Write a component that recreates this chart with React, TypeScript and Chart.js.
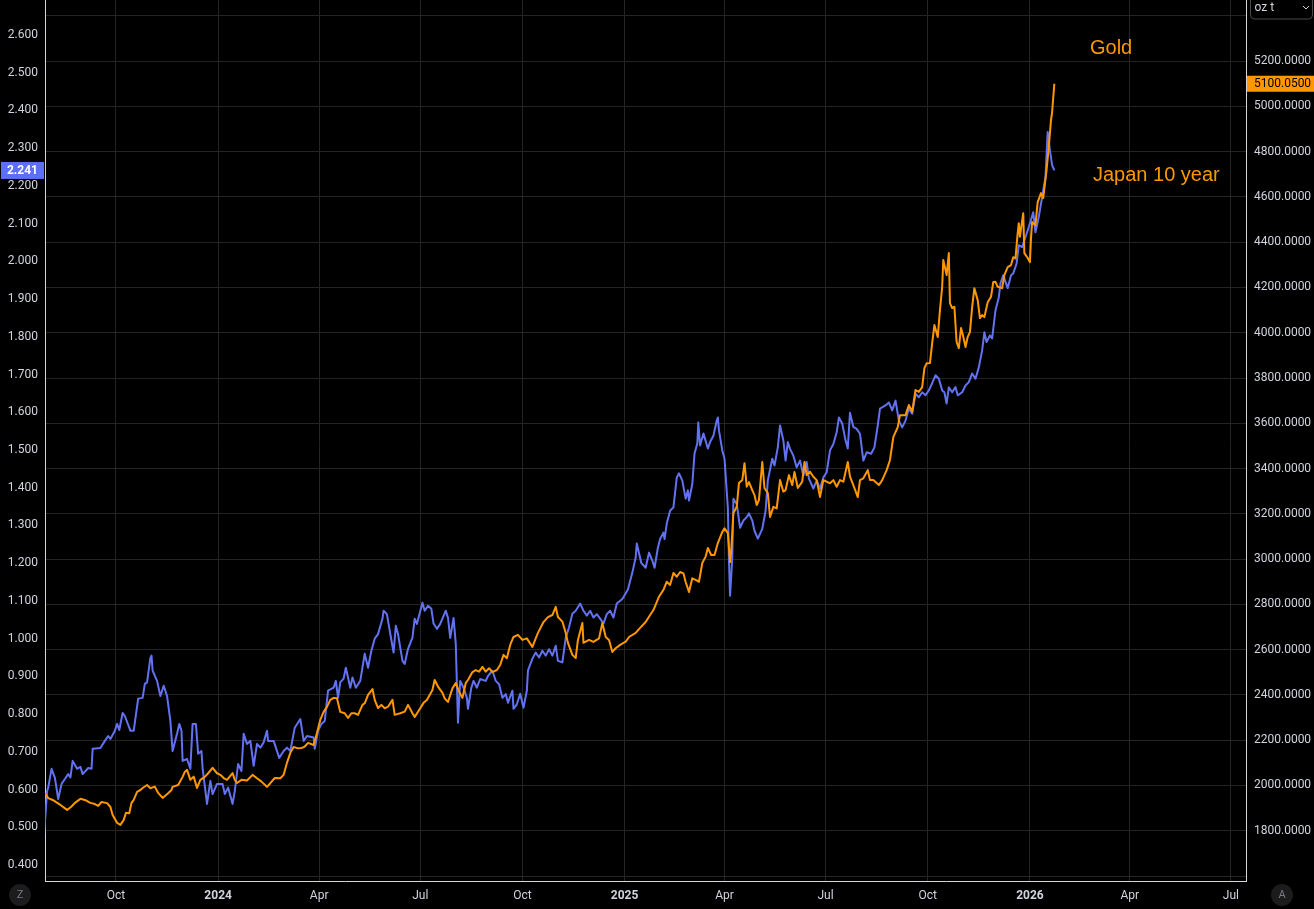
import React, { useEffect, useRef } from "react";
import { Chart, registerables } from "chart.js";

Chart.register(...registerables);

// ---------- data (days are counted from 2024-01-01) ----------
const BASE_DATE = Date.UTC(2024, 0, 1);
const DAY_MS = 86400000;

const jgbDays = [
  -157, -154, -153, -150, -147, -144, -141, -138, -135, -133, -131, -127, -124, -122, -117, -114, -113, -106, -102, -99,
  -97, -93, -91, -89, -86, -84, -79, -76, -72, -68, -66, -64, -61, -60, -59, -55, -52, -49, -46, -43,
  -41, -37, -35, -33, -32, -28, -25, -23, -20, -18, -15, -14, -10, -7, -5, -1, 4, 6, 9, 13,
  15, 18, 21, 23, 26, 29, 32, 35, 38, 41, 44, 45, 50, 55, 59, 62, 65, 69, 74, 77,
  80, 86, 87, 90, 93, 96, 99, 104, 106, 108, 110, 113, 115, 119, 121, 124, 128, 132, 135, 138,
  141, 144, 148, 149, 152, 155, 158, 160, 162, 166, 168, 171, 175, 177, 179, 184, 186, 189, 192, 194,
  197, 200, 205, 207, 209, 212, 214, 215, 216, 218, 221, 224, 225, 228, 230, 233, 236, 241, 243, 247,
  250, 253, 256, 259, 261, 265, 266, 269, 272, 275, 278, 279, 283, 286, 289, 292, 295, 298, 301, 304,
  306, 310, 313, 316, 319, 322, 326, 329, 332, 335, 338, 341, 344, 347, 350, 353, 356, 359, 364, 369,
  373, 376, 377, 381, 385, 388, 391, 393, 396, 398, 401, 402, 404, 407, 410, 413, 415, 418, 421, 423,
  424, 427, 429, 431.5, 432.4, 434, 437, 441, 443, 446, 449, 450, 451, 454, 456, 459, 460, 461, 463, 464,
  467, 470, 473, 476, 478, 481, 483, 486, 490, 493, 495, 499, 501, 504, 506, 509, 511, 513, 515, 518,
  521, 524, 527, 530, 532, 536, 539, 542, 545, 548, 551, 554, 557, 559, 562, 565, 567, 569, 572, 575,
  578, 581, 584, 588, 591, 594, 596, 601, 604, 607, 610, 613, 616, 619, 622, 625, 628, 631, 634, 637,
  640, 643, 646, 649, 652, 654, 656, 658, 661, 664, 666, 670, 673, 676, 679, 682, 685, 688, 690, 692,
  695, 697, 700, 703, 704.5, 707, 711, 714, 716, 719, 721, 724, 727, 730, 734, 736, 739, 742, 745, 747,
  749, 751, 753,
];

const jgbYield = [
  0.47, 0.596, 0.605, 0.655, 0.631, 0.575, 0.615, 0.628, 0.641, 0.632, 0.676, 0.655, 0.66, 0.641, 0.657, 0.655, 0.708, 0.71, 0.729, 0.742,
  0.734, 0.756, 0.774, 0.758, 0.803, 0.795, 0.756, 0.756, 0.841, 0.843, 0.88, 0.884, 0.949, 0.955, 0.915, 0.888, 0.848, 0.875, 0.848, 0.782,
  0.702, 0.748, 0.774, 0.756, 0.676, 0.681, 0.655, 0.774, 0.774, 0.695, 0.702, 0.657, 0.562, 0.623, 0.588, 0.615, 0.615, 0.588, 0.605, 0.562,
  0.596, 0.668, 0.649, 0.748, 0.721, 0.729, 0.663, 0.721, 0.711, 0.725, 0.756, 0.729, 0.729, 0.684, 0.702, 0.711, 0.702, 0.764, 0.787, 0.729,
  0.742, 0.738, 0.708, 0.756, 0.774, 0.782, 0.862, 0.87, 0.888, 0.843, 0.884, 0.894, 0.923, 0.87, 0.897, 0.87, 0.888, 0.96, 0.923, 0.968,
  1.0, 1.012, 1.053, 1.074, 1.065, 1.013, 0.963, 1.034, 1.012, 0.941, 0.933, 0.973, 1.003, 1.053, 1.039, 1.095, 1.074, 1.087, 1.079, 1.04,
  1.026, 1.039, 1.074, 1.055, 1.002, 1.055, 0.986, 0.88, 0.777, 0.888, 0.87, 0.843, 0.814, 0.87, 0.888, 0.87, 0.893, 0.888, 0.901, 0.915,
  0.888, 0.879, 0.843, 0.853, 0.83, 0.862, 0.814, 0.826, 0.854, 0.817, 0.862, 0.915, 0.947, 0.963, 0.95, 0.968, 0.955, 0.972, 0.955, 0.981,
  0.941, 0.937, 1.002, 1.03, 1.066, 1.074, 1.093, 1.074, 1.061, 1.074, 1.056, 1.065, 1.053, 1.04, 1.065, 1.074, 1.056, 1.093, 1.105, 1.13,
  1.175, 1.215, 1.252, 1.201, 1.188, 1.228, 1.207, 1.188, 1.241, 1.264, 1.281, 1.264, 1.305, 1.339, 1.348, 1.427, 1.438, 1.419, 1.371, 1.393,
  1.366, 1.41, 1.491, 1.517, 1.573, 1.512, 1.544, 1.504, 1.521, 1.538, 1.578, 1.586, 1.552, 1.499, 1.477, 1.347, 1.207, 1.114, 1.216, 1.371,
  1.357, 1.294, 1.313, 1.322, 1.332, 1.313, 1.286, 1.265, 1.291, 1.339, 1.419, 1.477, 1.459, 1.507, 1.565, 1.525, 1.472, 1.521, 1.503, 1.485,
  1.454, 1.472, 1.432, 1.468, 1.424, 1.398, 1.419, 1.397, 1.427, 1.441, 1.499, 1.516, 1.547, 1.586, 1.57, 1.525, 1.504, 1.599, 1.561, 1.556,
  1.543, 1.472, 1.494, 1.49, 1.507, 1.565, 1.61, 1.618, 1.626, 1.605, 1.631, 1.578, 1.56, 1.578, 1.61, 1.596, 1.649, 1.64, 1.653, 1.645,
  1.658, 1.677, 1.698, 1.689, 1.658, 1.653, 1.623, 1.666, 1.653, 1.667, 1.645, 1.653, 1.671, 1.68, 1.703, 1.689, 1.719, 1.764, 1.812, 1.786,
  1.804, 1.796, 1.87, 1.905, 1.942, 1.963, 1.929, 1.963, 1.968, 1.994, 2.043, 2.038, 2.064, 2.091, 2.13, 2.077, 2.118, 2.17, 2.223, 2.343,
  2.295, 2.255, 2.241,
];

const goldDays = [
  -156, -153, -149, -142, -136, -132, -129, -124, -120, -115, -111, -108, -105, -100, -97, -95, -91, -88, -85, -83,
  -80, -78, -76, -73, -70, -68, -64, -61, -57, -54, -50, -45, -42, -41, -36, -32, -30, -28, -25, -22,
  -19, -16, -12, -9, -5, -1, 2, 5, 8, 13, 15, 17, 21, 26, 31, 35, 39, 44, 47, 51,
  56, 59, 62, 65, 68, 72, 75, 78, 81, 86, 89, 92, 95, 98, 101, 104, 107, 110, 114, 117,
  120, 123, 126, 130, 132, 135, 139, 141, 144, 147, 150, 153, 157, 159, 164, 168, 171, 175, 177, 180,
  185, 188, 193, 195, 198, 202, 204, 207, 211, 214, 217, 220, 223, 225, 229, 232, 235, 238, 241, 244,
  247, 251, 254, 257, 260, 263, 266, 270, 274, 278, 283, 286, 288, 293, 297, 301, 304, 306, 310, 313,
  315, 319, 322, 324, 328, 329, 334, 338, 343, 346, 349, 352, 355, 358, 362, 367, 370, 376, 380, 385,
  389, 392, 397, 401, 404, 407, 410, 413, 416, 419, 421, 424, 427, 430, 433, 436, 439, 441, 444, 447,
  450, 454, 456, 459, 461, 462, 464, 467, 469, 472, 474, 476, 478, 481, 483, 485, 487, 490, 492, 495,
  497, 500, 503, 506, 509, 511, 514, 517, 519, 522, 526, 528, 530, 533, 536, 539, 542, 545, 548, 551,
  554, 557, 560, 563, 567, 569, 572, 576, 578, 581, 585, 587, 590, 595, 598, 602, 605, 608, 612, 614,
  619, 622, 625, 628, 631, 634, 636, 638, 641, 643, 645, 648, 650, 652, 653, 656, 658, 659, 661, 663,
  665, 667, 669, 671, 673, 675, 677, 679, 681, 684, 686, 688, 690, 693, 696, 698, 700, 702, 706, 708,
  711, 714, 716, 718, 720, 721, 722, 725, 726, 729, 731, 732, 733, 736, 738, 741, 743, 746, 748, 750,
  751, 753,
];

const goldPrice = [
  1967, 1944, 1936, 1914, 1892, 1907, 1923, 1941, 1936, 1923, 1918, 1910, 1927, 1922, 1905, 1870, 1835, 1826, 1848, 1879,
  1877, 1923, 1936, 1972, 1980, 1989, 2002, 1988, 1995, 1967, 1945, 1966, 1980, 1994, 2002, 2038, 2060, 2069, 2025, 2039,
  1989, 2025, 2038, 2054, 2078, 2054, 2047, 2033, 2025, 2055, 2025, 2011, 2025, 2022, 2047, 2032, 2017, 1994, 2010, 2033,
  2032, 2047, 2100, 2144, 2170, 2164, 2165, 2172, 2188, 2179, 2232, 2290, 2325, 2347, 2378, 2387, 2385, 2325, 2319, 2298,
  2319, 2319, 2312, 2356, 2363, 2400, 2426, 2378, 2342, 2356, 2341, 2348, 2378, 2312, 2319, 2326, 2356, 2319, 2303, 2326,
  2365, 2378, 2422, 2466, 2437, 2409, 2385, 2369, 2429, 2453, 2414, 2387, 2453, 2466, 2501, 2510, 2503, 2524, 2503, 2518,
  2501, 2510, 2532, 2577, 2562, 2621, 2656, 2665, 2643, 2650, 2612, 2650, 2674, 2722, 2744, 2753, 2789, 2744, 2724, 2674,
  2630, 2577, 2563, 2643, 2718, 2630, 2643, 2634, 2650, 2718, 2656, 2643, 2590, 2606, 2621, 2635, 2656, 2674, 2696, 2722,
  2753, 2775, 2834, 2864, 2900, 2886, 2939, 2922, 2943, 2937, 2899, 2855, 2915, 2908, 2900, 2983, 3011, 3049, 3018, 3018,
  3071, 3120, 3136, 3115, 2987, 3033, 3204, 3231, 3336, 3349, 3424, 3320, 3340, 3305, 3283, 3239, 3261, 3429, 3313, 3292,
  3186, 3231, 3224, 3349, 3298, 3305, 3371, 3327, 3385, 3314, 3342, 3429, 3371, 3386, 3364, 3349, 3274, 3349, 3342, 3335,
  3349, 3320, 3349, 3342, 3429, 3364, 3327, 3274, 3349, 3357, 3393, 3349, 3349, 3327, 3349, 3393, 3438, 3539, 3583, 3636,
  3636, 3681, 3651, 3747, 3739, 3760, 3844, 3865, 3866, 3954, 4034, 3981, 4100, 4202, 4321, 4255, 4352, 4131, 4109, 4115,
  3959, 3932, 4021, 3982, 3937, 3982, 4003, 4113, 4197, 4144, 4065, 4078, 4069, 4135, 4159, 4224, 4225, 4203, 4197, 4255,
  4290, 4299, 4334, 4328, 4440, 4484, 4424, 4528, 4352, 4330, 4312, 4418, 4489, 4475, 4577, 4617, 4595, 4718, 4820, 4939,
  4974, 5100.05,
];

const leftTicks = [0.4, 0.5, 0.6, 0.7, 0.8, 0.9, 1.0, 1.1, 1.2, 1.3, 1.4, 1.5, 1.6, 1.7, 1.8, 1.9, 2.0, 2.1, 2.2, 2.3, 2.4, 2.5, 2.6];
const rightTicks = [1600, 1800, 2000, 2200, 2400, 2600, 2800, 3000, 3200, 3400, 3600, 3800, 4000, 4200, 4400, 4600, 4800, 5000, 5200, 5400];
const hiddenRightTicks = [1600, 5400];
const dateTicks = [
  "2023-10-01", "2024-01-01", "2024-04-01", "2024-07-01", "2024-10-01", "2025-01-01",
  "2025-04-01", "2025-07-01", "2025-10-01", "2026-01-01", "2026-04-01", "2026-07-01",
];
const monthNames = ["Jan", "Feb", "Mar", "Apr", "May", "Jun", "Jul", "Aug", "Sep", "Oct", "Nov", "Dec"];
const seriesNames = ["Japan 10 year", "Gold"];
const unitLabel = "oz t";

const viewStartDay = -155.9;
const viewEndDay = 925.6;
const leftMin = 0.3576;
const leftMax = 2.6928;
const rightMin = 1578;
const rightMax = 5470;

const BLUE = "#6272f2";
const ORANGE = "#ff9800";
const GRID = "#242424";
const AXIS_LINE = "#d6d6d6";
const TEXT = "#d1d4dc";
const FONT = "Roboto, 'Liberation Sans', sans-serif";

const dayOf = (iso: string) => (Date.parse(iso + "T00:00:00Z") - BASE_DATE) / DAY_MS;

const zeroPad = (s: any) => {
  s.paddingTop = 0;
  s.paddingBottom = 0;
  s.paddingLeft = 0;
  s.paddingRight = 0;
};

const decorPlugin = {
  id: "tvDecor",
  beforeDraw(chart: any) {
    const { ctx, width, height } = chart;
    ctx.save();
    ctx.fillStyle = "#000";
    ctx.fillRect(0, 0, width, height);
    ctx.restore();
  },
  afterDraw(chart: any) {
    const { ctx, scales, chartArea } = chart;
    const yL = scales.yL;
    const yR = scales.yR;
    ctx.save();

    // annotation texts
    ctx.fillStyle = ORANGE;
    ctx.font = "20px 'Liberation Sans', Arial, sans-serif";
    ctx.textAlign = "left";
    ctx.textBaseline = "alphabetic";
    ctx.fillText(seriesNames[1], 1090, 54);
    ctx.fillText(seriesNames[0], 1093, 181);

    // last-value label on left axis
    const lastJ = jgbYield[jgbYield.length - 1];
    const yj = yL.getPixelForValue(lastJ);
    ctx.fillStyle = "#5d6ef7";
    ctx.fillRect(1, yj - 8.5, chartArea.left - 2, 17);
    ctx.fillStyle = "#ffffff";
    ctx.font = `bold 12px ${FONT}`;
    ctx.textAlign = "right";
    ctx.textBaseline = "middle";
    ctx.fillText(lastJ.toFixed(3), chartArea.left - 7, yj + 0.5);

    // last-value label on right axis
    const lastG = goldPrice[goldPrice.length - 1];
    const yg = yR.getPixelForValue(lastG);
    ctx.fillStyle = ORANGE;
    ctx.fillRect(chartArea.right + 1, yg - 8, chart.width - chartArea.right - 1, 16);
    ctx.fillStyle = "#000000";
    ctx.font = `12px ${FONT}`;
    ctx.textAlign = "left";
    ctx.fillText(lastG.toFixed(4), chartArea.right + 8, yg + 0.5);

    // unit dropdown
    const bx = chartArea.right + 4.5;
    ctx.strokeStyle = "#4a4a4a";
    ctx.lineWidth = 1;
    ctx.beginPath();
    (ctx as any).roundRect(bx, -5, chart.width - bx - 1.5, 24, 4);
    ctx.stroke();
    ctx.fillStyle = TEXT;
    ctx.font = `12px ${FONT}`;
    ctx.textAlign = "left";
    ctx.fillText(unitLabel, bx + 4, 8);
    ctx.strokeStyle = TEXT;
    ctx.beginPath();
    ctx.moveTo(chart.width - 11, 6);
    ctx.lineTo(chart.width - 8, 9);
    ctx.lineTo(chart.width - 5, 6);
    ctx.stroke();

    // corner buttons
    const cy = chartArea.bottom + 14;
    const drawBtn = (cx: number, letter: string) => {
      ctx.fillStyle = "#1c1c1c";
      ctx.beginPath();
      ctx.arc(cx, cy, 11, 0, Math.PI * 2);
      ctx.fill();
      ctx.fillStyle = "#787b86";
      ctx.font = `11px ${FONT}`;
      ctx.textAlign = "center";
      ctx.textBaseline = "middle";
      ctx.fillText(letter, cx, cy + 0.5);
    };
    drawBtn(20, "Z");
    drawBtn(1282, "A");

    ctx.restore();
  },
};

export default function App() {
  const ref = useRef<HTMLCanvasElement>(null);

  useEffect(() => {
    document.body.style.margin = "0";
    document.body.style.background = "#000";
    document.body.style.overflow = "hidden";

    const jgbPoints = jgbDays.map((d, i) => ({ x: d, y: jgbYield[i] }));
    const goldPoints = goldDays.map((d, i) => ({ x: d, y: goldPrice[i] }));

    const chart = new Chart(ref.current as HTMLCanvasElement, {
      type: "line",
      data: {
        datasets: [
          {
            label: seriesNames[1],
            data: goldPoints,
            yAxisID: "yR",
            borderColor: ORANGE,
            borderWidth: 2,
            pointRadius: 0,
            tension: 0,
            order: 0,
            borderJoinStyle: "round",
          },
          {
            label: seriesNames[0],
            data: jgbPoints,
            yAxisID: "yL",
            borderColor: BLUE,
            borderWidth: 2,
            pointRadius: 0,
            tension: 0,
            order: 1,
            borderJoinStyle: "round",
          },
        ],
      },
      options: {
        animation: false,
        responsive: true,
        maintainAspectRatio: false,
        layout: { padding: 0 },
        plugins: {
          legend: { display: false },
          tooltip: { enabled: false },
        },
        events: [],
        scales: {
          x: {
            type: "linear",
            min: viewStartDay,
            max: viewEndDay,
            afterBuildTicks: (s: any) => {
              s.ticks = dateTicks.map((d) => ({ value: dayOf(d) }));
            },
            afterFit: (s: any) => {
              s.height = 28;
              zeroPad(s);
            },
            grid: { color: GRID, drawTicks: false, lineWidth: 1 },
            border: { display: true, color: AXIS_LINE, width: 1 },
            ticks: {
              autoSkip: false,
              maxRotation: 0,
              padding: 8,
              color: TEXT,
              font: (c: any) => {
                const v = c.tick ? c.tick.value : 0;
                const m = new Date(BASE_DATE + Math.round(v) * DAY_MS).getUTCMonth();
                return { family: FONT, size: 12, weight: m === 0 ? "bold" : "normal" };
              },
              callback: (v: any) => {
                const dt = new Date(BASE_DATE + Math.round(Number(v)) * DAY_MS);
                const m = dt.getUTCMonth();
                return m === 0 ? String(dt.getUTCFullYear()) : monthNames[m];
              },
            },
          },
          yL: {
            type: "linear",
            position: "left",
            min: leftMin,
            max: leftMax,
            afterBuildTicks: (s: any) => {
              s.ticks = leftTicks.map((v) => ({ value: v }));
            },
            afterFit: (s: any) => {
              s.width = 45;
              zeroPad(s);
            },
            grid: { display: false, drawTicks: false },
            border: { display: true, color: AXIS_LINE, width: 1 },
            ticks: {
              padding: 7,
              color: TEXT,
              font: { family: FONT, size: 12 },
              callback: (v: any) => Number(v).toFixed(3),
            },
          },
          yR: {
            type: "linear",
            position: "right",
            min: rightMin,
            max: rightMax,
            afterBuildTicks: (s: any) => {
              s.ticks = rightTicks.map((v) => ({ value: v }));
            },
            afterFit: (s: any) => {
              s.width = 68;
              zeroPad(s);
            },
            grid: { color: GRID, drawTicks: false, lineWidth: 1 },
            border: { display: true, color: AXIS_LINE, width: 1 },
            ticks: {
              padding: 8,
              color: TEXT,
              font: { family: FONT, size: 12 },
              callback: (v: any) => (hiddenRightTicks.includes(Number(v)) ? "" : Number(v).toFixed(4)),
            },
          },
        },
      },
      plugins: [decorPlugin],
    } as any);

    return () => chart.destroy();
  }, []);

  return (
    <div style={{ width: 1314, height: 909, position: "relative", background: "#000" }}>
      <canvas ref={ref} />
    </div>
  );
}
